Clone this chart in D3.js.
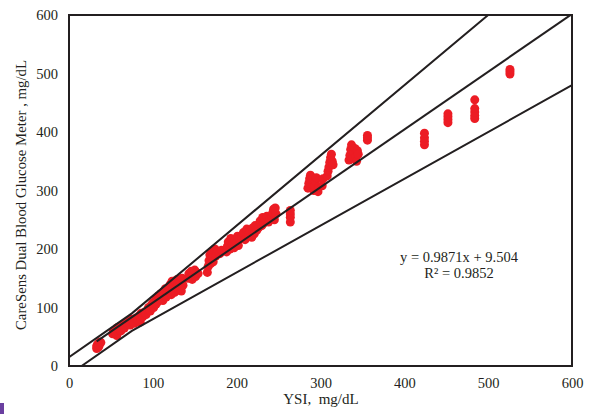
<!DOCTYPE html>
<html><head><meta charset="utf-8">
<script src="https://cdn.jsdelivr.net/npm/d3@7"></script>
<style>body{margin:0;background:#fff}svg{display:block}text{font-family:"Liberation Serif","Times New Roman",serif;fill:#231f20;white-space:pre}</style>
</head><body><svg id="c" width="598" height="414"></svg>
<script>
const xTicks=[0,100,200,300,400,500,600];
const yTicks=[0,100,200,300,400,500,600];
const ysi=[33,33,34,35,36,36,37,38,
52,53,55,56,57,58,60,61,62,
64,66,68,70,72,73,75,76,78,80,82,84,85,86,88,
90,92,94,95,97,98,100,101,103,104,105,106,107,108,110,110,
112,113,114,115,116,118,119,120,121,122,123,124,125,126,127,128,129,130,131,132,133,134,135,136,
142,143,145,146,147,148,150,151,152,154,
165,166,167,168,169,170,171,172,174,175,176,178,180,182,
188,189,190,192,193,195,197,198,200,201,202,204,
206,208,210,212,214,216,218,219,221,222,224,
226,228,230,231,232,234,236,238,240,
242,243,244,245,246,247,
264,264,264,264,
285,286,287,288,292,293,294,295,297,298,
302,303,308,309,310,311,312,313,314,315,
334,335,336,337,338,340,341,342,343,344,345,
356,356,356,
424,424,424,424,
452,452,452,452,
484,484,484,484,484,
526,526,526];
const meter=[30,34,37,32,39,35,41,40,
55,60,58,63,52,66,62,68,60,
70,65,74,72,78,70,80,76,73,82,78,86,75,90,84,
92,88,97,100,94,104,108,100,112,106,116,110,120,114,118,124,
112,128,120,132,118,126,135,130,140,122,145,132,138,126,142,134,148,140,130,136,144,128,150,138,
150,158,152,162,148,156,164,153,160,158,
160,170,180,190,175,195,185,178,200,188,192,196,192,198,
195,205,212,200,218,208,202,215,210,222,206,218,
220,228,216,234,224,230,220,236,226,240,232,
236,248,240,254,244,250,256,246,252,
256,262,268,250,270,260,
246,254,260,266,
304,312,320,326,300,308,316,322,298,306,
308,320,325,333,340,348,356,362,350,344,
352,360,370,378,355,365,372,358,350,368,362,
386,390,394,
378,384,390,398,
416,421,426,431,
423,428,434,440,455,
499,503,507];
const upperLimit=[[0,15],[75,90],[500,600]];
const lowerLimit=[[15,0],[75,60],[600,480]];
const slope=0.9871, intercept=9.504;
const fitRange=[33,600];
const eqLines=["y = 0.9871x + 9.504","R² = 0.9852"];

const svg=d3.select("#c");
const L=69,R=572,T=15,B=366;
const x=d3.scaleLinear().domain([0,600]).range([L,R]);
const y=d3.scaleLinear().domain([0,600]).range([B,T]);
svg.append("defs").append("clipPath").attr("id","clip").append("rect")
  .attr("x",L).attr("y",T).attr("width",R-L).attr("height",B-T);

svg.append("g").selectAll("circle").data(ysi.map((v,i)=>[v,meter[i]])).join("circle")
  .attr("cx",d=>x(d[0])).attr("cy",d=>y(d[1])).attr("r",4.5).attr("fill","#ec1c24");

const line=d3.line().x(d=>x(d[0])).y(d=>y(d[1]));
const g=svg.append("g").attr("clip-path","url(#clip)");
[upperLimit,lowerLimit,fitRange.map(v=>[v,slope*v+intercept])].forEach(p=>{
  g.append("path").attr("d",line(p)).attr("fill","none").attr("stroke","#231f20").attr("stroke-width",2);
});

svg.append("rect").attr("x",L).attr("y",T).attr("width",R-L).attr("height",B-T)
  .attr("fill","none").attr("stroke","#231f20").attr("stroke-width",2);

const xa=svg.append("g").attr("transform",`translate(0,${B})`).call(d3.axisBottom(x).tickValues(xTicks).tickSize(0).tickPadding(12));
xa.select(".domain").remove();
xa.selectAll("text").attr("font-size",14.5).attr("font-family","Liberation Serif").attr("fill","#231f20");
const ya=svg.append("g").attr("transform",`translate(${L},0)`).call(d3.axisLeft(y).tickValues(yTicks).tickSize(0).tickPadding(11));
ya.select(".domain").remove();
ya.selectAll("text").attr("font-size",14.5).attr("font-family","Liberation Serif").attr("fill","#231f20");

svg.append("text").attr("x",321).attr("y",404).attr("text-anchor","middle").attr("font-size",15).text("YSI,  mg/dL");
svg.append("text").attr("transform","translate(26,195) rotate(-90)").attr("text-anchor","middle").attr("font-size",14.8)
  .text("CareSens Dual Blood Glucose Meter , mg/dL");

svg.append("g").selectAll("text").data(eqLines).join("text")
  .attr("x",459).attr("y",(d,i)=>262+i*16).attr("text-anchor","middle").attr("font-size",14.5).text(d=>d);

svg.append("rect").attr("x",0).attr("y",403).attr("width",4).attr("height",11).attr("fill","#6a3fa0");
</script></body></html>
